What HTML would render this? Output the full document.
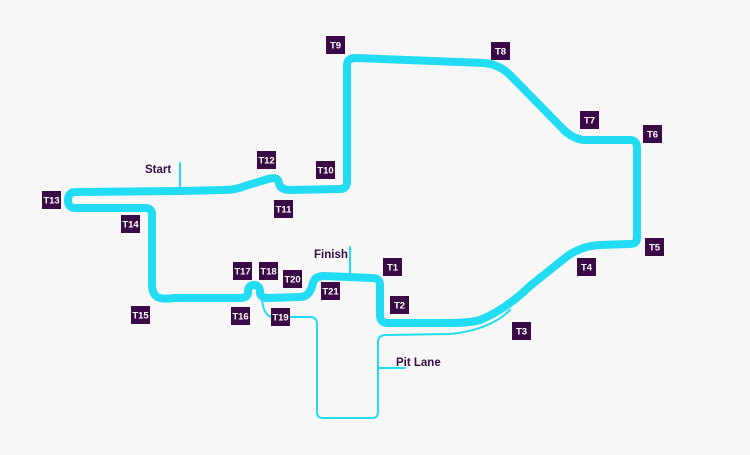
<!DOCTYPE html>
<html><head><meta charset="utf-8"><style>
html,body{margin:0;padding:0;background:#f7f7f7;width:750px;height:455px;overflow:hidden}
svg{display:block}
.b{fill:#3a0a47}
.t{fill:#fff;font-family:"Liberation Sans",sans-serif;font-size:9.5px;font-weight:bold;text-anchor:middle}
.l{fill:#3a0a47;font-family:"Liberation Sans",sans-serif;font-size:11.5px;font-weight:bold}
</style></head><body>
<svg width="750" height="455" viewBox="0 0 750 455">
<rect width="750" height="455" fill="#f7f7f7"/>
<g fill="none" stroke="#22dcf4" stroke-linejoin="round" stroke-linecap="round">
<path stroke-width="2" d="M262,300 Q264,316 272,317 L310,317 Q317,317 317,324 L317,412 Q317,418 323,418 L372,418 Q378,418 378,412 L378,342 Q378,335 386,335 L450,334 Q490,330 510,310"/>
<path stroke-width="2" d="M180,163 L180,190 M350,247 L350,276 M378,368 L405,368"/>
<path stroke-width="8" d="M180,191 L225,190 Q235,190 245,186 L268,179 Q278,176 279,183 Q280,190 290,190 L340,189 Q347,189 347,182 L347,65 Q347,58 356,58 L485,63 Q500,65 510,75 L562,128 Q572,139 585,140 L630,140 Q637,140 637,148 L637,238 Q637,244 630,244 L600,245 Q580,246 565,258 L530,286 Q505,310 480,320 Q470,323 450,323 L388,323 Q380,323 380,315 L380,285 Q380,278 372,278 L324,276 Q315,276 313,283 Q310,297 300,297 L268,298 Q260,298 260,292 Q260,285 254,285 Q248,285 248,292 Q248,298 240,298 L175,298 Q160,300 156,296 Q152,293 152,284 L152,214 Q152,208 145,208 L75,208 Q68,208 68,200 Q68,192 76,192 Z"/>
</g>
<g>
<text class="l" x="145" y="173">Start</text>
<text class="l" x="314" y="258">Finish</text>
<text class="l" x="396" y="366">Pit Lane</text>
</g>
<g>
<rect class="b" x="326" y="36" width="19" height="18"/><text class="t" x="335.5" y="48.5">T9</text>
<rect class="b" x="491" y="42" width="19" height="18"/><text class="t" x="500.5" y="54.5">T8</text>
<rect class="b" x="580" y="111" width="19" height="18"/><text class="t" x="589.5" y="123.5">T7</text>
<rect class="b" x="643" y="125" width="19" height="18"/><text class="t" x="652.5" y="137.5">T6</text>
<rect class="b" x="645" y="238" width="19" height="18"/><text class="t" x="654.5" y="250.5">T5</text>
<rect class="b" x="577" y="258" width="19" height="18"/><text class="t" x="586.5" y="270.5">T4</text>
<rect class="b" x="512" y="322" width="19" height="18"/><text class="t" x="521.5" y="334.5">T3</text>
<rect class="b" x="390" y="296" width="19" height="18"/><text class="t" x="399.5" y="308.5">T2</text>
<rect class="b" x="383" y="258" width="19" height="18"/><text class="t" x="392.5" y="270.5">T1</text>
<rect class="b" x="321" y="282" width="19" height="18"/><text class="t" x="330.5" y="294.5">T21</text>
<rect class="b" x="283" y="270" width="19" height="18"/><text class="t" x="292.5" y="282.5">T20</text>
<rect class="b" x="271" y="308" width="19" height="18"/><text class="t" x="280.5" y="320.5">T19</text>
<rect class="b" x="259" y="262" width="19" height="18"/><text class="t" x="268.5" y="274.5">T18</text>
<rect class="b" x="233" y="262" width="19" height="18"/><text class="t" x="242.5" y="274.5">T17</text>
<rect class="b" x="231" y="307" width="19" height="18"/><text class="t" x="240.5" y="319.5">T16</text>
<rect class="b" x="131" y="306" width="19" height="18"/><text class="t" x="140.5" y="318.5">T15</text>
<rect class="b" x="121" y="215" width="19" height="18"/><text class="t" x="130.5" y="227.5">T14</text>
<rect class="b" x="42" y="191" width="19" height="18"/><text class="t" x="51.5" y="203.5">T13</text>
<rect class="b" x="257" y="151" width="19" height="18"/><text class="t" x="266.5" y="163.5">T12</text>
<rect class="b" x="274" y="200" width="19" height="18"/><text class="t" x="283.5" y="212.5">T11</text>
<rect class="b" x="316" y="161" width="19" height="18"/><text class="t" x="325.5" y="173.5">T10</text>
</g>
</svg>
</body></html>
